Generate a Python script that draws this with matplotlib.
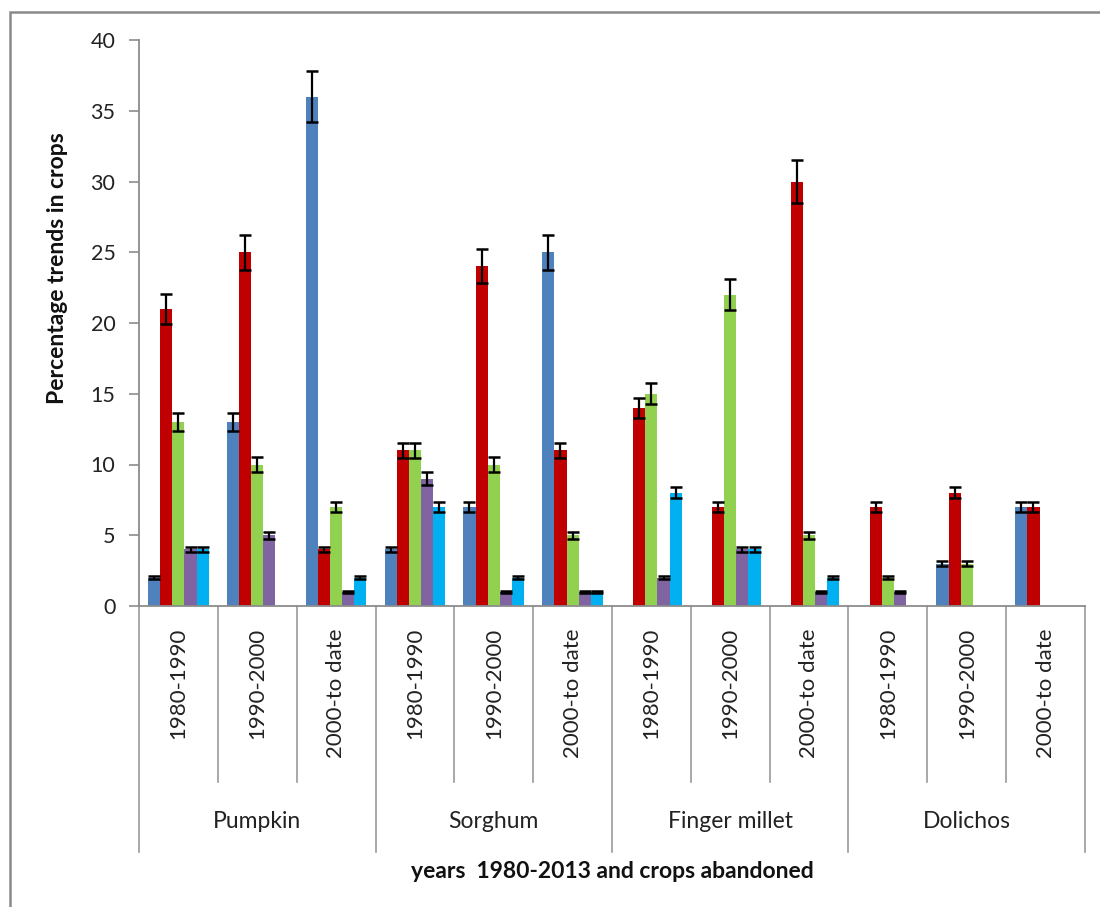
import matplotlib
matplotlib.use("Agg")
import matplotlib.pyplot as plt
import numpy as np
from matplotlib.transforms import blended_transform_factory
from matplotlib.patches import Rectangle

plt.rcParams['font.family'] = ['Lato', 'DejaVu Sans']

# Data: percentage trends of abandoned crops per period
crops = ["Pumpkin", "Sorghum", "Finger millet", "Dolichos"]
periods = ["1980-1990", "1990-2000", "2000-to date"]

series_blue = [2, 13, 36, 4, 7, 25, 0, 0, 0, 0, 3, 7]
series_red = [21, 25, 4, 11, 24, 11, 14, 7, 30, 7, 8, 7]
series_green = [13, 10, 7, 11, 10, 5, 15, 22, 5, 2, 3, 0]
series_purple = [4, 5, 1, 9, 1, 1, 2, 4, 1, 1, 0, 0]
series_cyan = [4, 0, 2, 7, 2, 1, 8, 4, 2, 0, 0, 0]

series_colors = ["#4F81BD", "#C00000", "#92D050", "#8064A2", "#00B0F0"]
error_fraction = 0.05  # percentage error bars

all_series = [series_blue, series_red, series_green, series_purple, series_cyan]

fig = plt.figure(figsize=(11, 9.07), dpi=100)
ax = fig.add_axes([139 / 1100, 1 - 606 / 907, (1085 - 139) / 1100, (606 - 40) / 907])

n_groups = len(crops) * len(periods)
x = np.arange(n_groups)
n_series = len(all_series)
width = 1 / (n_series + 1.5)

for j, (vals, col) in enumerate(zip(all_series, series_colors)):
    vals = np.array(vals, dtype=float)
    xpos = x + (j - (n_series - 1) / 2) * width
    ax.bar(xpos, vals, width=width, color=col, edgecolor='none', zorder=2)
    mask = vals > 0
    ax.errorbar(xpos[mask], vals[mask], yerr=vals[mask] * error_fraction,
                fmt='none', ecolor='black', elinewidth=1.6, capsize=4.3,
                capthick=1.8, zorder=3)

ax.set_xlim(-0.5, n_groups - 0.5)
ax.set_ylim(0, 40)
ax.set_yticks(np.arange(0, 41, 5))
ax.set_xticks([])

for s in ['top', 'right']:
    ax.spines[s].set_visible(False)
for s in ['left', 'bottom']:
    ax.spines[s].set_color('#8c8c8c')
    ax.spines[s].set_linewidth(1.3)
ax.tick_params(axis='y', direction='out', length=7, width=1.2, color='#8c8c8c',
               labelsize=15.5, labelcolor='#222222', pad=10)

# Multi-level category axis below the plot
trans = blended_transform_factory(ax.transData, fig.transFigure)
y_axis = 1 - 606 / 907
y_inner = 1 - 782 / 907
y_outer = 1 - 852 / 907
for b in range(n_groups + 1):
    xb = b - 0.5
    y_end = y_outer if b % len(periods) == 0 else y_inner
    ax.plot([xb, xb], [y_axis, y_end], transform=trans, color='#9a9a9a',
            lw=1.2, clip_on=False)

for i in range(n_groups):
    ax.text(i, 1 - 628 / 907, periods[i % len(periods)], transform=trans,
            rotation=90, ha='center', va='top', fontsize=16, color='#222222')

for k, crop in enumerate(crops):
    xc = k * len(periods) + (len(periods) - 1) / 2
    ax.text(xc, 1 - 822 / 907, crop, transform=trans, ha='center', va='center',
            fontsize=16.5, color='#222222')

fig.text(612 / 1100, 1 - 872 / 907, "years  1980-2013 and crops abandoned",
         ha='center', va='center', fontsize=16.5, fontweight='bold', color='#111111')
fig.text(57 / 1100, 1 - 268 / 907, "Percentage trends in crops", rotation=90,
         ha='center', va='center', fontsize=16.5, fontweight='bold', color='#111111')

# Chart-area border
fig.add_artist(Rectangle((10 / 1100, -0.1), 1.2, 1 - 12 / 907 + 0.1,
                         transform=fig.transFigure, fill=False,
                         edgecolor='#8a8a8a', lw=1.8))

fig.savefig("out.png", dpi=100)
